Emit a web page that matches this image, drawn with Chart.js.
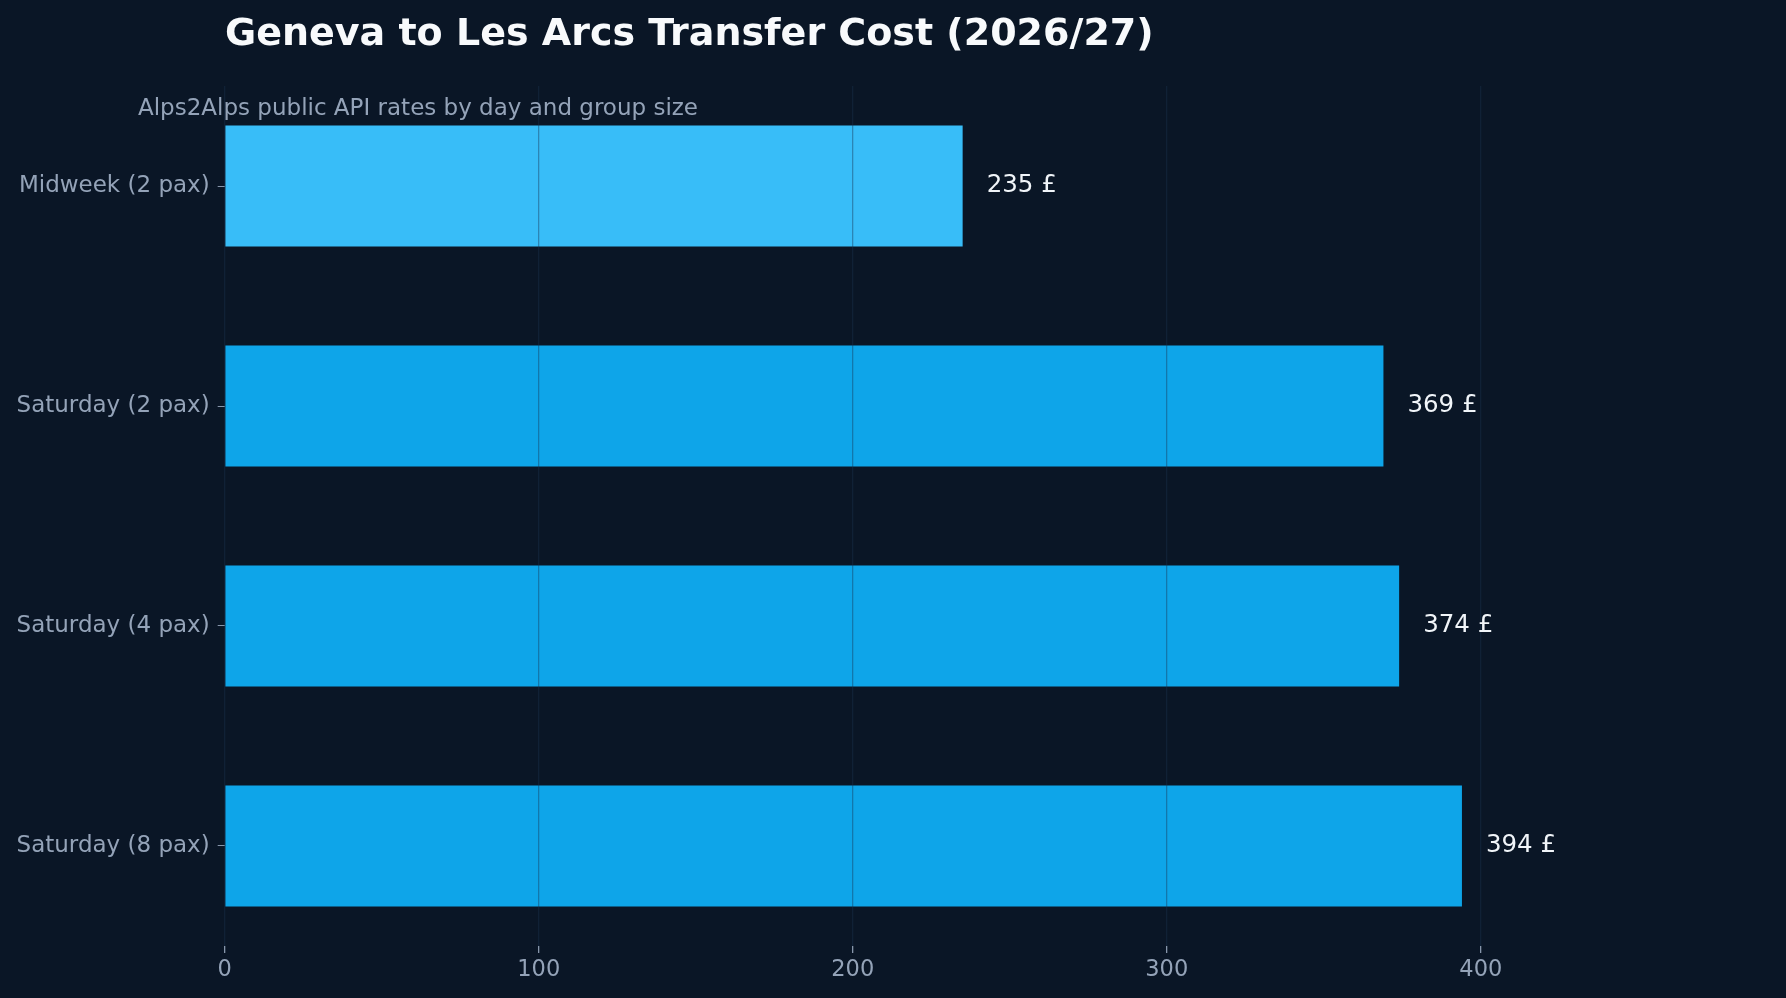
<!DOCTYPE html>
<html>
<head>
<meta charset="utf-8">
<script src="https://cdn.jsdelivr.net/npm/chart.js@4"></script>
<style>
  html, body { margin: 0; padding: 0; background: #0a1626; overflow: hidden; }
  #wrap { width: 1786px; height: 998px; }
</style>
</head>
<body>
<div id="wrap"><canvas id="costChart"></canvas></div>
<script>
const categories = ["Midweek (2 pax)", "Saturday (2 pax)", "Saturday (4 pax)", "Saturday (8 pax)"];
const prices = [235, 369, 374, 394];
const xTicks = [0, 100, 200, 300, 400];

const titleText = "Geneva to Les Arcs Transfer Cost (2026/27)";
const subtitleText = "Alps2Alps public API rates by day and group size";

const barColors = ["#38bdf8", "#0ea5e9", "#0ea5e9", "#0ea5e9"];
const font = "'DejaVu Sans', sans-serif";

// title, subtitle and value labels
const textPlugin = {
  id: "texts",
  afterDraw(chart) {
    const ctx = chart.ctx;
    const xs = chart.scales.x;
    const ys = chart.scales.y;
    ctx.save();
    ctx.textAlign = "left";
    ctx.textBaseline = "alphabetic";
    ctx.fillStyle = "#f8fafc";
    ctx.font = "bold 38px " + font;
    ctx.fillText(titleText, 225, 45);

    ctx.fillStyle = "#94a3b8";
    ctx.font = "23px " + font;
    ctx.fillText(subtitleText, 138, 115);

    ctx.fillStyle = "#f1f5f9";
    ctx.font = "24.5px " + font;
    ctx.textBaseline = "middle";
    prices.forEach((v, i) => {
      ctx.fillText(v + " £", xs.getPixelForValue(v) + 24, ys.getPixelForValue(i));
    });
    ctx.restore();
  }
};

const ctx = document.getElementById("costChart").getContext("2d");

new Chart(ctx, {
  type: "bar",
  data: {
    datasets: [
      {
        data: prices.map((v, i) => ({ x: v, y: i })),
        backgroundColor: barColors,
        borderWidth: 0,
        categoryPercentage: 1,
        barPercentage: 0.55
      }
    ]
  },
  options: {
    indexAxis: "y",
    responsive: true,
    maintainAspectRatio: false,
    animation: false,
    layout: { padding: { top: 86, right: 54, left: 0, bottom: 0 } },
    plugins: {
      legend: { display: false },
      tooltip: { enabled: false }
    },
    scales: {
      x: {
        type: "linear",
        position: "bottom",
        min: 0,
        max: 480,
        border: { display: false },
        grid: {
          z: 1,
          color: "rgba(25, 50, 80, 0.4)",
          lineWidth: 1.3,
          drawTicks: true,
          tickLength: 7,
          tickColor: "#8796ab"
        },
        ticks: {
          color: "#94a3b8",
          font: { family: font, size: 22.5 },
          padding: 4
        },
        afterBuildTicks: scale => {
          scale.ticks = xTicks.map(v => ({ value: v }));
        },
        afterFit: scale => {
          scale.height = 52;
        }
      },
      y: {
        type: "linear",
        reverse: true,
        offset: false,
        min: -0.455,
        max: 3.455,
        border: { display: false },
        grid: {
          offset: false,
          color: "transparent",
          drawTicks: true,
          tickLength: 7,
          tickColor: "#8796ab"
        },
        ticks: {
          color: "#94a3b8",
          font: { family: font, size: 23 },
          padding: 8,
          callback: value => categories[value]
        },
        afterBuildTicks: scale => {
          scale.ticks = categories.map((c, i) => ({ value: i }));
        },
        afterFit: scale => {
          scale.width = 224.7;
        }
      }
    }
  },
  plugins: [textPlugin]
});
</script>
</body>
</html>
